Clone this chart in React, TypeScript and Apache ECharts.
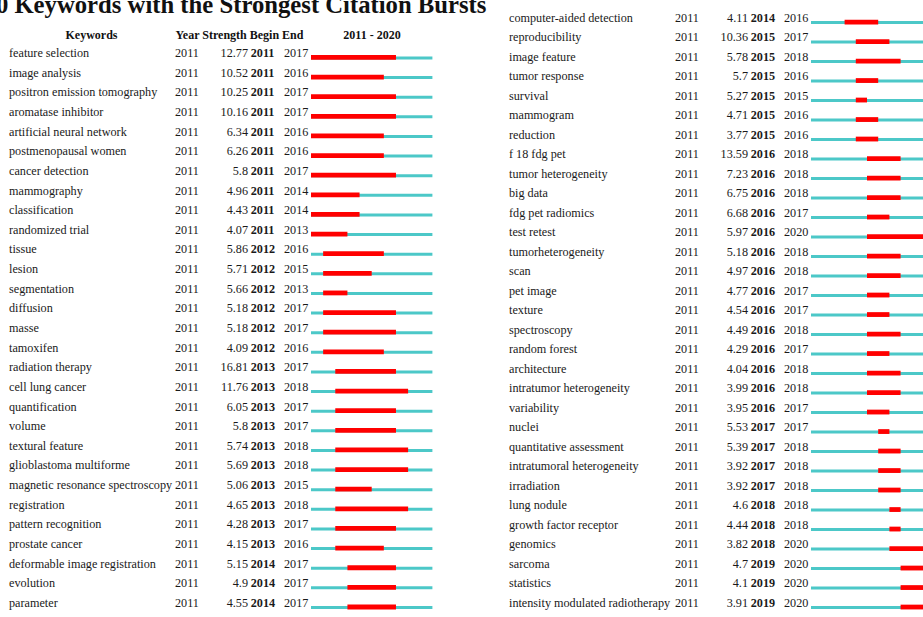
import React, { useEffect, useRef } from "react";
import * as echarts from "echarts";

// ---------- data ----------
const TITLE = "Top 60 Keywords with the Strongest Citation Bursts";
const HEADER_KEYWORDS = "Keywords";
const HEADER_COLS = "Year Strength Begin End";
const RANGE_START = 2011;
const RANGE_END = 2020;
const HEADER_RANGE = `${RANGE_START} - ${RANGE_END}`;

const keywordsLeft = [
  "feature selection", "image analysis", "positron emission tomography", "aromatase inhibitor",
  "artificial neural network", "postmenopausal women", "cancer detection", "mammography",
  "classification", "randomized trial", "tissue", "lesion", "segmentation", "diffusion", "masse",
  "tamoxifen", "radiation therapy", "cell lung cancer", "quantification", "volume",
  "textural feature", "glioblastoma multiforme", "magnetic resonance spectroscopy", "registration",
  "pattern recognition", "prostate cancer", "deformable image registration", "evolution", "parameter",
];
const yearLeft = keywordsLeft.map(() => 2011);
const strengthLeft = [
  12.77, 10.52, 10.25, 10.16, 6.34, 6.26, 5.8, 4.96, 4.43, 4.07, 5.86, 5.71, 5.66, 5.18, 5.18,
  4.09, 16.81, 11.76, 6.05, 5.8, 5.74, 5.69, 5.06, 4.65, 4.28, 4.15, 5.15, 4.9, 4.55,
];
const beginLeft = [
  2011, 2011, 2011, 2011, 2011, 2011, 2011, 2011, 2011, 2011,
  2012, 2012, 2012, 2012, 2012, 2012,
  2013, 2013, 2013, 2013, 2013, 2013, 2013, 2013, 2013, 2013,
  2014, 2014, 2014,
];
const endLeft = [
  2017, 2016, 2017, 2017, 2016, 2016, 2017, 2014, 2014, 2013,
  2016, 2015, 2013, 2017, 2017, 2016,
  2017, 2018, 2017, 2017, 2018, 2018, 2015, 2018, 2017, 2016,
  2017, 2017, 2017,
];

const keywordsRight = [
  "computer-aided detection", "reproducibility", "image feature", "tumor response", "survival",
  "mammogram", "reduction", "f 18 fdg pet", "tumor heterogeneity", "big data", "fdg pet radiomics",
  "test retest", "tumorheterogeneity", "scan", "pet image", "texture", "spectroscopy",
  "random forest", "architecture", "intratumor heterogeneity", "variability", "nuclei",
  "quantitative assessment", "intratumoral heterogeneity", "irradiation", "lung nodule",
  "growth factor receptor", "genomics", "sarcoma", "statistics", "intensity modulated radiotherapy",
];
const yearRight = keywordsRight.map(() => 2011);
const strengthRight = [
  4.11, 10.36, 5.78, 5.7, 5.27, 4.71, 3.77, 13.59, 7.23, 6.75, 6.68, 5.97, 5.18, 4.97, 4.77,
  4.54, 4.49, 4.29, 4.04, 3.99, 3.95, 5.53, 5.39, 3.92, 3.92, 4.6, 4.44, 3.82, 4.7, 4.1, 3.91,
];
const beginRight = [
  2014,
  2015, 2015, 2015, 2015, 2015, 2015,
  2016, 2016, 2016, 2016, 2016, 2016, 2016, 2016, 2016, 2016, 2016, 2016, 2016, 2016,
  2017, 2017, 2017, 2017,
  2018, 2018, 2018,
  2019, 2019, 2019,
];
const endRight = [
  2016,
  2017, 2018, 2016, 2015, 2016, 2016,
  2018, 2018, 2018, 2017, 2020, 2018, 2018, 2017, 2017, 2018, 2017, 2018, 2018, 2017,
  2017, 2018, 2018, 2018,
  2018, 2018, 2020,
  2020, 2020, 2020,
];

// ---------- styles ----------
const RED = "#ff0000";
const CYAN = "#4cc8c8";
const TEXT = "#1a1a1a";
const FONT = "'Liberation Serif', 'Times New Roman', serif";
const ROW_H = 19.82;
const YEAR_W = 12.14;
const FS = 12.2;

function makeRender(keywords: string[], years: number[], strengths: number[]) {
  return (params: any, api: any) => {
    const i = params.dataIndex;
    const row = api.value(0);
    const b = api.value(1);
    const e = api.value(2);
    const p0 = api.coord([RANGE_START, row]);
    const p1 = api.coord([RANGE_END + 1, row]);
    const pb = api.coord([b, row]);
    const pe = api.coord([e + 1, row]);
    const cy = p0[1];
    const x0 = p0[0];
    const ty = cy - 4.4;
    const txt = (text: string, x: number, align: string, bold = false) => ({
      type: "text",
      x,
      y: ty,
      silent: true,
      style: {
        text,
        fill: TEXT,
        font: `${bold ? "bold " : ""}${FS}px ${FONT}`,
        align,
        verticalAlign: "middle",
        textAlign: align,
        textVerticalAlign: "middle",
      },
    });
    return {
      type: "group",
      children: [
        {
          type: "rect",
          shape: { x: p0[0], y: cy - 1.2, width: p1[0] - p0[0], height: 3 },
          style: { fill: CYAN },
        },
        {
          type: "rect",
          shape: { x: pb[0], y: cy - 2.6, width: pe[0] - pb[0], height: 4.8 },
          style: { fill: RED },
        },
        txt(keywords[i], x0 - 302, "left"),
        txt(String(years[i]), x0 - 136, "left"),
        txt(String(strengths[i]), x0 - 63, "right"),
        txt(String(b), x0 - 60.3, "left", true),
        txt(String(e), x0 - 27, "left"),
      ],
    };
  };
}

export default function App() {
  const ref = useRef<HTMLDivElement>(null);
  useEffect(() => {
    if (!ref.current) return;
    const chart = echarts.init(ref.current, null, { renderer: "svg" });
    const leftTop = 57.7 - ROW_H / 2;
    const rightTop = 22.4 - ROW_H / 2;
    const option: any = {
      animation: false,
      backgroundColor: "#ffffff",
      grid: [
        { left: 311, top: leftTop, width: YEAR_W * 10, height: ROW_H * keywordsLeft.length },
        { left: 811, top: rightTop, width: YEAR_W * 10, height: ROW_H * keywordsRight.length },
      ],
      xAxis: [0, 1].map((g) => ({
        type: "value",
        gridIndex: g,
        min: RANGE_START,
        max: RANGE_END + 1,
        show: false,
      })),
      yAxis: [
        { type: "category", gridIndex: 0, data: keywordsLeft, inverse: true, show: false },
        { type: "category", gridIndex: 1, data: keywordsRight, inverse: true, show: false },
      ],
      graphic: [
        {
          type: "text",
          x: -62.9,
          y: 4.2,
          silent: true,
          style: {
            text: TITLE,
            fill: "#111",
            font: `bold 24.7px ${FONT}`,
            align: "left",
            verticalAlign: "middle",
            textAlign: "left",
            textVerticalAlign: "middle",
          },
        },
        {
          type: "text",
          x: 91.5,
          y: 35.3,
          silent: true,
          style: {
            text: HEADER_KEYWORDS,
            fill: "#111",
            font: `bold 12px ${FONT}`,
            align: "center",
            verticalAlign: "middle",
            textAlign: "center",
            textVerticalAlign: "middle",
          },
        },
        {
          type: "text",
          x: 175.5,
          y: 35.3,
          silent: true,
          style: {
            text: HEADER_COLS,
            fill: "#111",
            font: `bold 12px ${FONT}`,
            align: "left",
            verticalAlign: "middle",
            textAlign: "left",
            textVerticalAlign: "middle",
          },
        },
        {
          type: "text",
          x: 372,
          y: 35.3,
          silent: true,
          style: {
            text: HEADER_RANGE,
            fill: "#111",
            font: `bold 12px ${FONT}`,
            align: "center",
            verticalAlign: "middle",
            textAlign: "center",
            textVerticalAlign: "middle",
          },
        },
      ],
      series: [
        {
          type: "custom",
          xAxisIndex: 0,
          yAxisIndex: 0,
          clip: false,
          renderItem: makeRender(keywordsLeft, yearLeft, strengthLeft),
          data: keywordsLeft.map((_, i) => [i, beginLeft[i], endLeft[i]]),
        },
        {
          type: "custom",
          xAxisIndex: 1,
          yAxisIndex: 1,
          clip: false,
          renderItem: makeRender(keywordsRight, yearRight, strengthRight),
          data: keywordsRight.map((_, i) => [i, beginRight[i], endRight[i]]),
        },
      ],
    };
    chart.setOption(option);
    return () => chart.dispose();
  }, []);
  return (
    <div
      ref={ref}
      style={{ position: "fixed", left: 0, top: 0, width: 923, height: 617, background: "#fff" }}
    />
  );
}
